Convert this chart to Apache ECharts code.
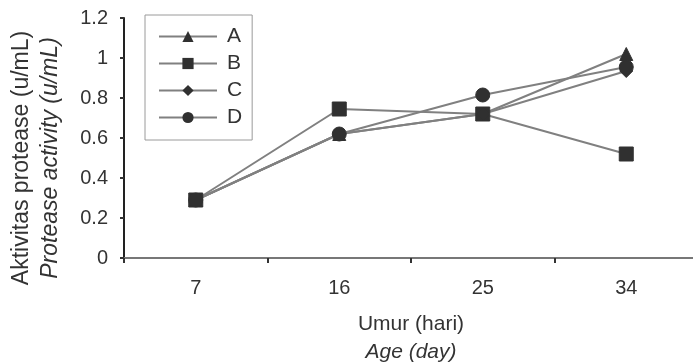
<!DOCTYPE html>
<html>
<head>
<meta charset="utf-8">
<script src="https://cdn.jsdelivr.net/npm/echarts@6/dist/echarts.min.js"></script>
<style>
  html, body { margin: 0; padding: 0; background: #fff; }
  #chart { width: 693px; height: 364px; }
</style>
</head>
<body>
<div id="chart"></div>
<script>
// umur (hari)
var days = ['7', '16', '25', '34'];
var seriesA = [0.29, 0.62, 0.72, 1.02];
var seriesB = [0.29, 0.745, 0.72, 0.52];
var seriesC = [0.29, 0.62, 0.72, 0.935];
var seriesD = [0.29, 0.62, 0.815, 0.955];
var yTicks = [0, 0.2, 0.4, 0.6, 0.8, 1, 1.2];

function renderChart() {
    var dom = document.getElementById('chart');
    var myChart = echarts.init(dom);
    var font = 'Liberation Sans, Arial, sans-serif';
    var lineColor = '#808080';
    var markColor = '#303030';

    function makeSeries(name, data, symbol, size) {
        return {
            name: name,
            type: 'line',
            data: data,
            symbol: symbol,
            symbolSize: size,
            showAllSymbol: true,
            lineStyle: { color: lineColor, width: 2 },
            itemStyle: { color: markColor, borderColor: markColor },
            emphasis: { disabled: true }
        };
    }

    var option = {
        backgroundColor: '#FFFFFF',
        animation: false,
        textStyle: { fontFamily: font },
        grid: {
            top: 18,
            bottom: 106,
            left: 124,
            right: -5,
            outerBoundsMode: 'none',
            containLabel: false
        },
        legend: {
            orient: 'vertical',
            left: 145,
            top: 15,
            padding: [11, 10, 12, 13],
            itemGap: 6,
            itemWidth: 58,
            itemHeight: 14,
            borderColor: '#9a9a9a',
            borderWidth: 1,
            textStyle: { fontSize: 21, color: '#333', fontFamily: font, padding: [0, 0, 0, 5] },
            data: ['A', 'B', 'C', 'D']
        },
        graphic: [
            {
                type: 'text',
                x: 22, y: 158, rotation: Math.PI / 2,
                style: {
                    text: 'Aktivitas protease (u/mL)',
                    fontSize: 23, fontFamily: font, fill: '#333',
                    align: 'center', verticalAlign: 'middle'
                }
            },
            {
                type: 'text',
                x: 51, y: 158, rotation: Math.PI / 2,
                style: {
                    text: 'Protease activity (u/mL)',
                    fontSize: 23, fontFamily: font, fontStyle: 'italic', fill: '#333',
                    align: 'center', verticalAlign: 'middle'
                }
            }
        ],
        xAxis: {
            type: 'category',
            data: days,
            boundaryGap: true,
            name: '{a|Umur (hari)}\n{b|Age (day)}',
            nameLocation: 'middle',
            nameGap: 52,
            nameTextStyle: {
                rich: {
                    a: { fontSize: 21, color: '#333', fontFamily: font, lineHeight: 28 },
                    b: { fontSize: 21, color: '#333', fontFamily: font, fontStyle: 'italic', lineHeight: 28 }
                }
            },
            axisLine: { lineStyle: { color: '#777', width: 2 } },
            axisTick: { show: true, length: 5, lineStyle: { color: '#333', width: 2 } },
            axisLabel: { fontSize: 20, color: '#333', margin: 20 },
            splitLine: { show: false }
        },
        yAxis: {
            type: 'value',
            min: yTicks[0],
            max: yTicks[yTicks.length - 1],
            interval: 0.2,
            axisLine: { show: true, lineStyle: { color: '#222', width: 2 } },
            axisTick: { show: true, length: 4, lineStyle: { color: '#333', width: 2 } },
            axisLabel: { fontSize: 20, color: '#333', margin: 16 },
            splitLine: { show: false }
        },
        series: [
            makeSeries('A', seriesA, 'triangle', 13),
            makeSeries('B', seriesB, 'rect', 14),
            makeSeries('C', seriesC, 'diamond', 13),
            makeSeries('D', seriesD, 'circle', 14)
        ]
    };

    if (option && typeof option === 'object') {
        myChart.setOption(option);
    }
}
renderChart();
</script>
</body>
</html>
